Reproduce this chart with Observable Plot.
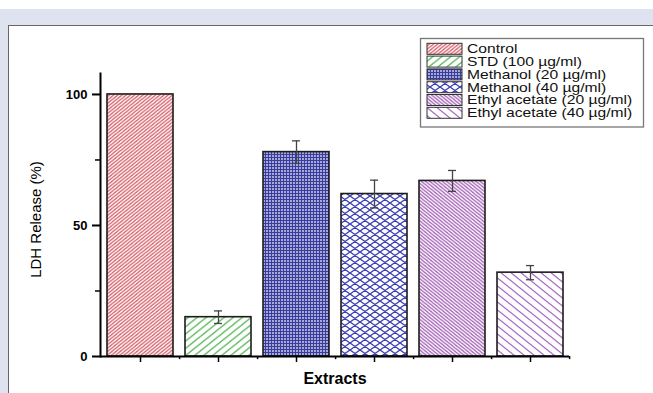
<!DOCTYPE html>
<html>
<head>
<meta charset="utf-8">
<script src="https://cdn.jsdelivr.net/npm/d3@7"></script>
<script src="https://cdn.jsdelivr.net/npm/@observablehq/plot@0.6"></script>
<style>
  html, body { margin: 0; padding: 0; background: #fff; }
  #page { position: relative; width: 653px; height: 393px; overflow: hidden; background: #fff; }
  #band { position: absolute; left: 0; top: 9px; width: 653px; height: 384px; background: #dfe3ef; }
  #panel { position: absolute; left: 8px; top: 25px; width: 660px; height: 380px; background: #fff;
           border-left: 1px solid #666; border-top: 1px solid #666; }
  #chart { position: absolute; left: 0; top: 0; }
  #legend { position: absolute; left: 420px; top: 38px; }
  #defs { position: absolute; width: 0; height: 0; }
</style>
</head>
<body>
<div id="page">
  <div id="band"></div>
  <div id="panel"></div>
  <div id="chart"></div>
  <div id="legend"></div>
</div>
<script>
// ---- data ----
const categories = ["Control", "STD (100 µg/ml)", "Methanol (20 µg/ml)", "Methanol (40 µg/ml)", "Ethyl acetate (20 µg/ml)", "Ethyl acetate (40 µg/ml)"];
const values = [100, 15, 78, 62, 67, 32];
const errors = [0, 2.4, 4.3, 5.3, 4, 2.7];
const yTicks = [0, 50, 100];
const yMinorTicks = [25, 75];
const xLabel = "Extracts";
const yLabel = "LDH Release (%)";

// ---- patterns ----
const patternSpecs = [
  {id: "pat0", kind: "up",      w: 4.2, h: 3.4, color: "#d65f69", sw: 1.3},
  {id: "pat1", kind: "up",      w: 9,   h: 7.2, color: "#5dba5d", sw: 1.3},
  {id: "pat2", kind: "grid",    w: 3,   h: 3,   color: "#383c9e", sw: 1.5},
  {id: "pat3", kind: "diamond", w: 10,  h: 7,   color: "#3a3eb2", sw: 1.3},
  {id: "pat4", kind: "down",    w: 4.2, h: 3.4, color: "#a462b6", sw: 1.3},
  {id: "pat5", kind: "down",    w: 10,  h: 8,   color: "#a96cc4", sw: 1.3}
];

const defsSvg = d3.select("body").append("svg").attr("id", "defs").attr("width", 0).attr("height", 0);
const defs = defsSvg.append("defs");
for (const p of patternSpecs) {
  const {w, h} = p;
  const pat = defs.append("pattern").attr("id", p.id).attr("patternUnits", "userSpaceOnUse")
    .attr("width", w).attr("height", h);
  pat.append("rect").attr("width", w).attr("height", h).attr("fill", "#fff");
  let d = "";
  const up = `M0,${h}L${w},0M${-w/2},${h/2}L${w/2},${-h/2}M${w/2},${1.5*h}L${1.5*w},${h/2}`;
  const down = `M0,0L${w},${h}M${-w/2},${h/2}L${w/2},${1.5*h}M${w/2},${-h/2}L${1.5*w},${h/2}`;
  if (p.kind === "up") d = up;
  else if (p.kind === "down") d = down;
  else if (p.kind === "diamond") d = up + down;
  else if (p.kind === "grid") d = `M0,${h/2}L${w},${h/2}M${w/2},0L${w/2},${h}`;
  pat.append("path").attr("d", d).attr("stroke", p.color).attr("stroke-width", p.sw).attr("fill", "none");
}

const rows = categories.map((c, i) => ({
  category: c, value: values[i], err: errors[i], pattern: `url(#${patternSpecs[i].id})`
}));
const withErr = rows.filter(d => d.err > 0);

const W = 653, H = 393, mL = 100, mR = 84, mT = 73, mB = 37;
const step = (W - mL - mR) / categories.length;

const chart = Plot.plot({
  width: W, height: H,
  marginLeft: mL, marginRight: mR, marginTop: mT, marginBottom: mB,
  x: {domain: categories, paddingInner: 0.16, paddingOuter: 0.08},
  y: {domain: [0, 108]},
  color: {type: "identity"},
  style: {background: "transparent", fontFamily: "'Liberation Sans', Arial, sans-serif", fontSize: "13px", fontWeight: "bold", color: "#000", overflow: "visible"},
  marks: [
    Plot.barY(rows, {x: "category", y: "value", fill: "pattern", stroke: "#1c1c1c", strokeWidth: 1.6}),
    Plot.ruleX(withErr, {x: "category", y1: d => d.value - d.err, y2: d => d.value + d.err, stroke: "#444", strokeWidth: 1.3}),
    Plot.tickY(withErr, {x: "category", y: d => d.value + d.err, insetLeft: 29, insetRight: 29, stroke: "#444", strokeWidth: 1.3}),
    Plot.tickY(withErr, {x: "category", y: d => d.value - d.err, insetLeft: 29, insetRight: 29, stroke: "#444", strokeWidth: 1.3}),
    Plot.ruleY([0], {stroke: "#000", strokeWidth: 2}),
    Plot.frame({anchor: "left", stroke: "#000", strokeWidth: 2}),
    Plot.axisY({ticks: yTicks, tickSize: 8, tickPadding: 5, strokeWidth: 2, label: null, fontSize: 13}),
    Plot.axisY({ticks: yMinorTicks, tickSize: 5, strokeWidth: 1.5, tickFormat: () => "", label: null}),
    Plot.axisX({tickSize: 6, tickFormat: () => "", label: null, strokeWidth: 1.5}),
    Plot.ruleX(categories, {x: d => d, y1: 0, y2: -1.2, dx: step / 2, stroke: "#000", strokeWidth: 1.5}),
    Plot.text([xLabel], {text: d => d, frameAnchor: "bottom", textAnchor: "middle", lineAnchor: "middle", dy: 22, fontSize: 16, fontWeight: "bold"}),
    Plot.text([yLabel], {text: d => d, frameAnchor: "left", textAnchor: "middle", lineAnchor: "middle", rotate: -90, dx: -64, dy: 4.5, fontSize: 15, fontWeight: "normal"})
  ]
});
document.getElementById("chart").appendChild(chart);

// ---- legend ----
const lg = d3.select("#legend").append("svg").attr("width", 226).attr("height", 91)
  .style("font-family", "'Liberation Sans', Arial, sans-serif").style("overflow", "visible");
lg.append("rect").attr("x", 0.5).attr("y", 0.5).attr("width", 223).attr("height", 88.5)
  .attr("fill", "#fff").attr("stroke", "#777").attr("stroke-width", 1.3);
categories.forEach((c, i) => {
  const y0 = 5.3 + i * 12.8;
  lg.append("rect").attr("x", 7).attr("y", y0).attr("width", 35).attr("height", 11)
    .attr("fill", `url(#${patternSpecs[i].id})`).attr("stroke", "#333").attr("stroke-width", 1);
  lg.append("text").attr("x", 47).attr("y", y0 + 9.8).attr("font-size", 12.6).attr("fill", "#111").text(c);
});
lg.selectAll("text").each(function() {
  const len = this.getComputedTextLength();
  this.setAttribute("textLength", (len * 1.24).toFixed(1));
  this.setAttribute("lengthAdjust", "spacingAndGlyphs");
});
</script>
</body>
</html>
